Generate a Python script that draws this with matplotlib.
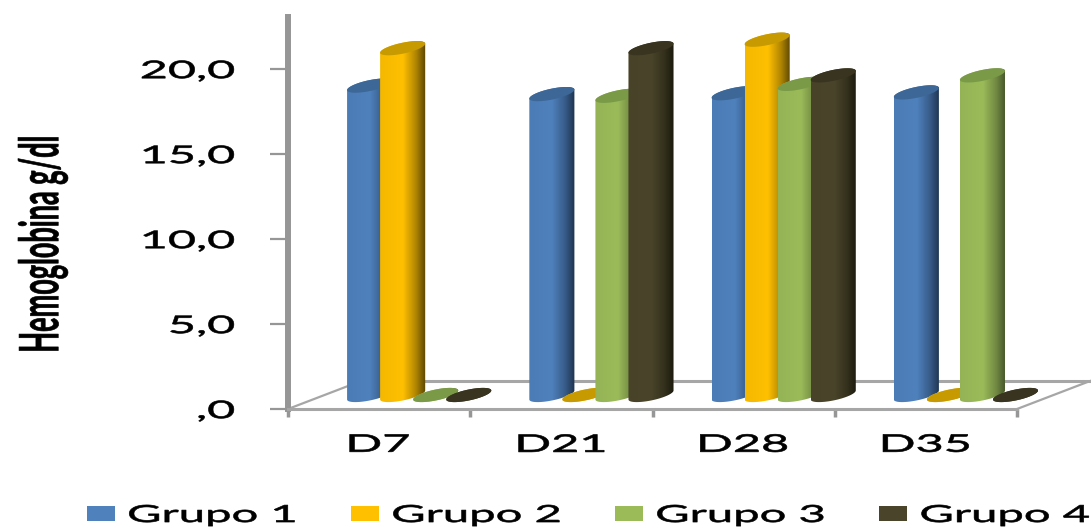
from types import MethodType

import numpy as np
import matplotlib
matplotlib.use('Agg')
import matplotlib.pyplot as plt
from matplotlib.colors import LinearSegmentedColormap, to_rgb, to_rgba
from matplotlib.patches import Patch, Polygon
from matplotlib.text import Text
from matplotlib.textpath import TextPath
from matplotlib.transforms import Affine2D

categories = ['D7', 'D21', 'D28', 'D35']
grupo1 = [18.2, 17.7, 17.75, 17.8]
grupo2 = [20.4, 0, 20.9, 0]
grupo3 = [0, 17.6, 18.3, 18.8]
grupo4 = [0, 20.4, 18.8, 0]
series_names = ['Grupo 1', 'Grupo 2', 'Grupo 3', 'Grupo 4']
y_ticks = [0, 5, 10, 15, 20]
y_labels = [',0', '5,0', '10,0', '15,0', '20,0']

body_colors = ['#4F81BD', '#FFC000', '#9BBB59', '#4A452A']
right_colors = ['#1E3450', '#5A4500', '#44552A', '#1C1A0E']
cap_colors = ['#3C6796', '#C69A00', '#7A9A48', '#39341F']

GREY = '#969696'
W, H = 1091, 530
PX_Y = 17.0     # pixels per g/dl
PX_X = 182.0    # pixels per category
TEXT_STRETCH = 2.0

plt.rcParams['font.family'] = ['Lato', 'DejaVu Sans']

fig = plt.figure(figsize=(W / 100, H / 100), dpi=100)
ax = fig.add_axes([288 / W, (H - 409) / H, (1017 - 288) / W, (409 - 17) / H])

bar_width = 45 / PX_X
bar_step = 33 / PX_X
bar_start = 59 / PX_X
base_y = 14 / PX_Y
tilt = 4.5 / PX_Y
minor = 5.5 / PX_Y


def draw_wide(self, renderer):
    # same text, drawn from its outline with a horizontal stretch on screen
    if not self.get_visible() or not self.get_text():
        return
    box = Text.get_window_extent(self, renderer)
    size = self.get_fontproperties().get_size_in_points() * self.get_figure().dpi / 72
    glyphs = TextPath((0, 0), self.get_text(), size=size, prop=self.get_fontproperties())
    shape = Affine2D().rotate_deg(self.get_rotation()).scale(TEXT_STRETCH, 1)
    ext = glyphs.transformed(shape).get_extents()
    if self.get_ha() == 'left':
        dx = box.x0 - ext.x0
    elif self.get_ha() == 'right':
        dx = box.x1 - ext.x1
    else:
        dx = (box.x0 + box.x1) / 2 - (ext.x0 + ext.x1) / 2
    dy = (box.y0 + box.y1) / 2 - (ext.y0 + ext.y1) / 2
    gc = renderer.new_gc()
    gc.set_linewidth(0.45)
    gc.set_foreground(self.get_color())
    gc.set_antialiased(True)
    renderer.draw_path(gc, glyphs, shape + Affine2D().translate(dx, dy), to_rgba(self.get_color()))
    gc.restore()


def widen(labels):
    for label in labels:
        label.draw = MethodType(draw_wide, label)


def ellipse_arc(cx, cy, t):
    x = cx + bar_width / 2 * np.cos(t)
    y = cy + tilt * np.cos(t) + minor * np.sin(t)
    return np.column_stack([x, y])


def draw_cylinder(left, value, series, order):
    cx = left + bar_width / 2
    top_y = base_y + value
    bottom = ellipse_arc(cx, base_y, np.linspace(np.pi, 2 * np.pi, 40))
    top = ellipse_arc(cx, top_y, np.linspace(0, np.pi, 40))
    outline = Polygon(np.vstack([bottom, top]), closed=True, transform=ax.transData)

    base = np.array(to_rgb(body_colors[series]))
    dark = np.array(to_rgb(right_colors[series]))
    shade = LinearSegmentedColormap.from_list('shade', [
        (0.0, base * 0.96),
        (0.5, base),
        (0.8, (base + dark) / 2),
        (1.0, dark),
    ])
    im = ax.imshow(np.linspace(0, 1, 64)[None, :], cmap=shade, aspect='auto',
                   extent=(left, left + bar_width, base_y - 1, top_y + 1),
                   zorder=order, interpolation='bilinear')
    im.set_clip_box(fig.bbox)
    im.set_clip_path(outline)

    cap = ellipse_arc(cx, top_y, np.linspace(0, 2 * np.pi, 80))
    ax.add_patch(Polygon(cap, closed=True, facecolor=cap_colors[series],
                         edgecolor='none', zorder=order + 0.5, clip_on=False))


# floor of the chart, drawn behind the cylinders
depth_x, depth_y = 73 / PX_X, 28 / PX_Y
ax.plot([depth_x, 4 + depth_x], [depth_y, depth_y], color='#A6A6A6', lw=2.2, zorder=1, clip_on=False)
ax.plot([0, depth_x], [0, depth_y], color='#A6A6A6', lw=1.6, zorder=1, clip_on=False)
ax.plot([4, 4 + depth_x], [0, depth_y], color='#A6A6A6', lw=1.6, zorder=1, clip_on=False)

all_series = [grupo1, grupo2, grupo3, grupo4]
order = 2
for i in range(len(categories)):
    for j, values in enumerate(all_series):
        draw_cylinder(i + bar_start + j * bar_step, values[i], j, order)
        order += 1

ax.set_xlim(0, 4)
ax.set_ylim(0, (409 - 17) / PX_Y)
ax.patch.set_visible(False)

for name in ['top', 'right']:
    ax.spines[name].set_visible(False)
ax.spines['left'].set_color(GREY)
ax.spines['left'].set_linewidth(4.3)
ax.spines['bottom'].set_color('#A6A6A6')
ax.spines['bottom'].set_linewidth(2.2)

ax.set_yticks(y_ticks)
ax.set_yticklabels(y_labels, fontsize=17.5, color='black')
ax.tick_params(axis='y', length=13, width=1.6, color=GREY, pad=26)

ax.set_xticks(np.arange(4) + 0.5)
ax.set_xticklabels(categories, fontsize=17.5, color='black')
ax.set_xticks(np.arange(5), minor=True)
ax.tick_params(axis='x', which='major', length=0, pad=17)
ax.tick_params(axis='x', which='minor', length=6, width=2.5, color=GREY)
widen(ax.get_yticklabels())
widen(ax.get_xticklabels())

ylabel = fig.text(43 / W, (H - 244) / H, 'Hemoglobina g/dl', rotation=90, ha='center', va='center',
                  fontsize=19.5, fontweight='bold')
widen([ylabel])

handles = [Patch(facecolor=c, edgecolor='none') for c in body_colors]
legend = fig.legend(handles, series_names, loc='lower left', bbox_to_anchor=(87 / W, (H - 526) / H),
                    ncol=4, frameon=False, fontsize=17, handlelength=1.19, handleheight=0.59,
                    handletextpad=0.6, columnspacing=5.78, borderpad=0, borderaxespad=0)
widen(legend.get_texts())

fig.savefig('out.png', dpi=100)
